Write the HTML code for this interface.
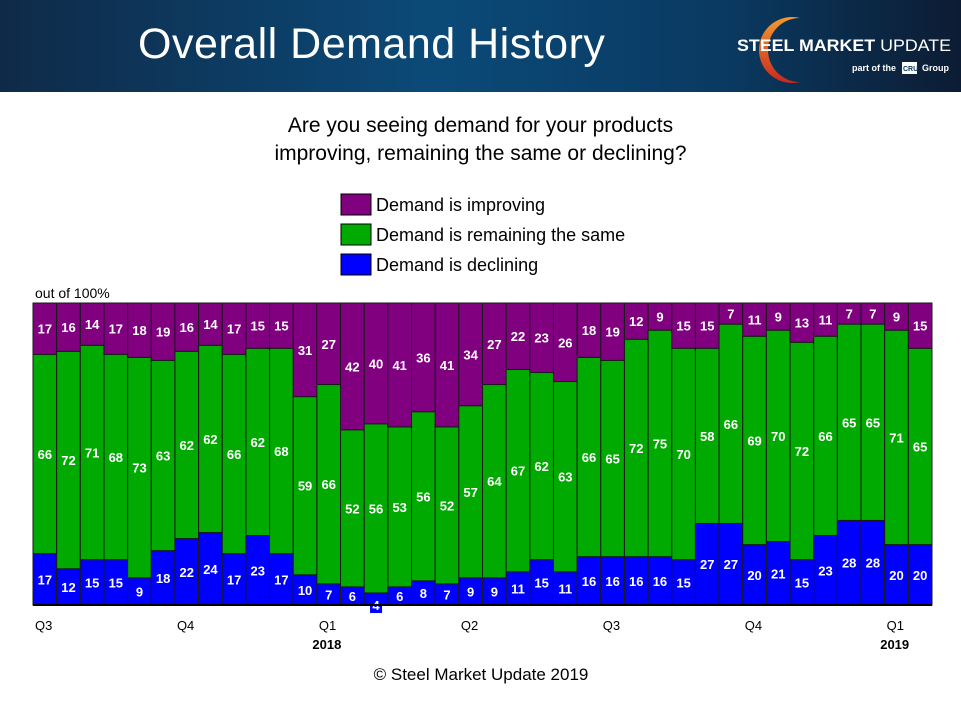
<!DOCTYPE html>
<html><head><meta charset="utf-8"><style>
body{margin:0;width:961px;height:705px;background:#fff;overflow:hidden;font-family:"Liberation Sans",sans-serif}
#hdr{position:absolute;left:0;top:0;width:961px;height:92px;background:linear-gradient(90deg,#0f2a48 0%,#0b4a78 45%,#0a3a62 75%,#0c1c33 100%)}
</style></head><body>
<div id="hdr">
<div style="position:absolute;left:138px;top:20px;color:#fff;font-size:43px;letter-spacing:0.5px">Overall Demand History</div>
<svg width="261" height="92" style="position:absolute;left:700px;top:0">
<defs><linearGradient id="arcg" x1="0" y1="0" x2="0" y2="1"><stop offset="0" stop-color="#f29a2e"/><stop offset="1" stop-color="#c8281e"/></linearGradient></defs>
<path d="M100 18 A33 33 0 1 0 100 82 A28 28 0 1 1 100 18Z" fill="url(#arcg)"/>
<text x="37" y="51" font-size="17" font-weight="bold" fill="#fff" font-family="Liberation Sans" textLength="214" lengthAdjust="spacingAndGlyphs">STEEL MARKET <tspan font-weight="normal">UPDATE</tspan></text>
<text x="152" y="71" font-size="9" font-weight="bold" fill="#fff" font-family="Liberation Sans">part of the</text>
<rect x="202" y="62" width="15" height="12" fill="#fff"/><text x="203" y="71" font-size="7" font-weight="bold" fill="#0b3a62">CRU</text>
<text x="222" y="71" font-size="9" font-weight="bold" fill="#fff" font-family="Liberation Sans">Group</text>
</svg>
</div>
<div style="position:absolute;left:0;width:961px;top:112px;text-align:center;font-size:21px;line-height:28px;color:#000">Are you seeing demand for your products<br>improving, remaining the same or declining?</div>
<svg id="chart" width="961" height="705" style="position:absolute;left:0;top:0"></svg>
<script>
const improving=[17,16,14,17,18,19,16,14,17,15,15,31,27,42,40,41,36,41,34,27,22,23,26,18,19,12,9,15,15,7,11,9,13,11,7,7,9,15];
const same=[66,72,71,68,73,63,62,62,66,62,68,59,66,52,56,53,56,52,57,64,67,62,63,66,65,72,75,70,58,66,69,70,72,66,65,65,71,65];
const declining=[17,12,15,15,9,18,22,24,17,23,17,10,7,6,4,6,8,7,9,9,11,15,11,16,16,16,16,15,27,27,20,21,15,23,28,28,20,20];
const quarterLabels=["Q3","","","","","","Q4","","","","","","Q1","","","","","","Q2","","","","","","Q3","","","","","","Q4","","","","","","Q1",""];
const yearLabels=["","","","","","","","","","","","","2018","","","","","","","","","","","","","","","","","","","","","","","","2019",""];
const seriesNames=["Demand is improving","Demand is remaining the same","Demand is declining"];
const colors=["#800080","#00aa00","#0000ff"];
const X0=33,X1=932,Y0=303,Y1=605,N=declining.length,bw=(X1-X0)/N;
const xs=i=>X0+i*bw;
const ys=v=>Y1-v/100*(Y1-Y0);
const svg=document.getElementById('chart');const NS='http://www.w3.org/2000/svg';
function mk(t,a){const e=document.createElementNS(NS,t);for(const k in a)e.setAttribute(k,a[k]);svg.appendChild(e);return e;}
seriesNames.forEach((s,i)=>{const y=194+i*30;
const r=mk('rect',{x:341,y:y,width:30,height:21,fill:colors[i],stroke:'#000','stroke-width':1});


const t=mk('text',{x:376,y:y+17,'font-size':18,fill:'#000'});t.textContent=s;

});
const yl=mk('text',{x:35,y:298,'font-size':14});yl.textContent='out of 100%';


mk('rect',{x:X0,y:Y0,width:X1-X0,height:Y1-Y0,fill:'#800080'});
for(let i=0;i<N;i++){
 const d=declining[i],s=same[i],im=improving[i];
 const segs=[[0,d,2,'bar-declining'],[d,d+s,1,'bar-same'],[d+s,100,0,'bar-improving']];
 const vals=[d,s,im];
 segs.forEach((g,k)=>{const top=ys(g[1]),bot=ys(g[0]);
  const r=mk('rect',{x:xs(i),y:top,width:bw,height:bot-top,fill:colors[g[2]],stroke:'#1a1a1a','stroke-width':1});
  
  
  let cy=(top+bot)/2+5;
  if(bot-top<16){cy=Y1+5;mk('rect',{x:xs(i)+bw/2-6,y:Y1-6,width:12,height:14,fill:colors[2]});}
  const t=mk('text',{x:xs(i)+bw/2,y:cy,'text-anchor':'middle','font-size':13,'font-weight':'bold',fill:'#fff'});
  t.textContent=vals[k];
  
  
 });
 if(quarterLabels[i]){const t=mk('text',{x:xs(i)+2,y:630,'font-size':13});t.textContent=quarterLabels[i];
  
  }
 if(yearLabels[i]){const t=mk('text',{x:xs(i)+10,y:649,'font-size':13,'font-weight':'bold','text-anchor':'middle'});t.textContent=yearLabels[i];
  
  }
}
mk('line',{x1:X0,x2:X1,y1:Y1,y2:Y1,stroke:'#000','stroke-width':2});
const c=mk('text',{x:481,y:680,'text-anchor':'middle','font-size':17});c.textContent='© Steel Market Update 2019';


</script>
</body></html>
